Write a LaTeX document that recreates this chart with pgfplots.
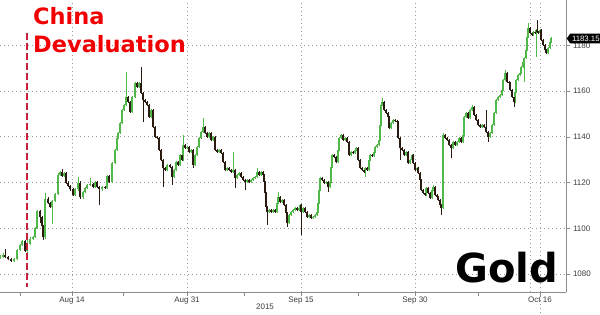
\documentclass[border=0pt]{standalone}
\usepackage{pgfplots}
\pgfplotsset{compat=1.18}
\usepackage{pgfplotstable}
\usepackage{fontspec}
\setmainfont{Liberation Sans}
\newfontfamily\djb{DejaVu Sans}
\usetikzlibrary{shapes.symbols}
\definecolor{upc}{HTML}{4FB848}
\definecolor{dnc}{HTML}{2A1A10}
\definecolor{gridgray}{HTML}{9A9A9A}
\definecolor{axisgray}{HTML}{8C8C8C}
\definecolor{labelgray}{HTML}{3C3C3C}
\definecolor{devred}{HTML}{C8203C}
\definecolor{txtred}{HTML}{F00000}
% x = bar position on the business-day time axis, o/h/l/c = gold price (USD/oz)
\pgfplotstableread{
x o h l c
0 1087.0 1088.1 1086.5 1087.6
3 1087.6 1089.0 1087.1 1088.5
5 1088.5 1091.0 1086.8 1087.3
8 1087.3 1087.8 1086.0 1086.5
11 1086.5 1087.0 1085.3 1085.8
14 1085.8 1087.0 1085.3 1086.5
17 1086.5 1091.0 1086.0 1090.5
20 1090.5 1093.2 1090.0 1092.7
22 1092.7 1095.0 1092.2 1094.5
25 1094.5 1095.0 1089.5 1090.0
27 1090.0 1098.0 1089.0 1093.0
30 1093.0 1096.0 1092.5 1095.5
33 1095.5 1096.7 1095.0 1096.2
35 1096.2 1100.5 1095.7 1100.0
37 1100.0 1108.0 1099.5 1107.5
40 1107.5 1108.0 1102.5 1105.0
42 1105.0 1105.5 1100.5 1101.0
43 1101.0 1101.5 1094.9 1096.0
45 1096.0 1115.5 1095.5 1113.0
48 1113.0 1113.5 1110.5 1111.0
50 1111.0 1111.5 1109.0 1109.5
52 1109.5 1112.5 1102.0 1112.0
55 1112.0 1115.5 1111.5 1115.0
58 1115.0 1124.0 1114.5 1123.5
60 1123.5 1125.1 1123.0 1124.6
62 1124.6 1126.0 1122.5 1123.0
64 1123.0 1124.5 1122.5 1124.0
66 1124.0 1124.5 1119.5 1120.0
68 1120.0 1120.5 1118.0 1118.5
70 1118.5 1119.0 1116.5 1117.0
73 1117.0 1117.5 1114.1 1114.6
75 1114.6 1117.5 1114.1 1117.0
78 1117.0 1122.5 1116.5 1120.0
80 1120.0 1120.5 1113.0 1113.5
83 1113.5 1116.5 1113.0 1116.0
85 1116.0 1118.0 1115.5 1117.5
87 1117.5 1119.5 1117.0 1119.0
90 1119.0 1122.0 1118.5 1119.5
93 1119.5 1120.0 1117.5 1118.0
95 1118.0 1120.8 1117.5 1120.3
97 1120.3 1120.8 1117.6 1118.1
99 1118.1 1118.6 1110.0 1117.0
102 1117.0 1118.6 1116.5 1118.1
105 1118.1 1118.6 1117.1 1117.6
107 1117.6 1123.5 1117.1 1123.0
109 1123.0 1123.5 1119.8 1120.3
112 1120.3 1129.1 1119.8 1128.6
115 1128.6 1134.8 1128.1 1134.3
117 1134.3 1140.0 1133.8 1139.5
118 1139.5 1142.2 1139.0 1141.7
120 1141.7 1146.6 1141.2 1146.1
122 1146.1 1152.3 1145.6 1151.8
124 1151.8 1154.5 1151.3 1154.0
126 1154.0 1168.4 1153.5 1157.5
128 1157.5 1158.0 1154.8 1155.3
130 1155.3 1155.8 1150.4 1150.9
132 1150.9 1158.0 1150.4 1157.5
135 1157.5 1164.1 1157.0 1163.6
137 1163.6 1164.1 1161.3 1161.8
139 1161.8 1164.1 1161.3 1163.6
141 1163.6 1170.6 1158.7 1159.2
143 1159.2 1159.7 1146.5 1156.1
145 1156.1 1156.6 1154.8 1155.3
147 1155.3 1155.8 1153.5 1154.0
149 1154.0 1154.5 1148.2 1148.7
151 1148.7 1152.3 1148.2 1151.8
153 1151.8 1152.3 1143.8 1144.3
155 1144.3 1144.8 1139.5 1140.0
157 1140.0 1140.5 1139.0 1139.5
159 1139.5 1140.0 1133.8 1134.3
161 1134.3 1134.8 1129.4 1129.9
163 1129.9 1130.4 1118.1 1126.4
165 1126.4 1126.9 1125.0 1125.5
167 1125.5 1128.2 1125.0 1127.7
170 1127.7 1128.2 1126.3 1126.8
172 1126.8 1127.3 1119.0 1122.5
174 1122.5 1126.0 1122.0 1125.5
176 1125.5 1129.5 1125.0 1129.0
178 1129.0 1129.5 1127.2 1127.7
180 1127.7 1132.6 1127.2 1132.1
182 1132.1 1132.6 1129.4 1129.9
183 1129.9 1140.8 1129.4 1136.5
185 1136.5 1137.0 1134.6 1135.1
187 1135.1 1136.1 1134.6 1135.6
189 1135.6 1136.1 1132.9 1133.4
191 1133.4 1134.8 1132.9 1134.3
193 1134.3 1134.8 1126.4 1127.7
195 1127.7 1132.6 1127.2 1132.1
197 1132.1 1136.1 1131.6 1135.6
199 1135.6 1140.0 1135.1 1139.5
201 1139.5 1142.6 1139.0 1142.1
203 1142.1 1148.3 1141.6 1144.3
205 1144.3 1144.8 1141.2 1141.7
207 1141.7 1142.2 1139.5 1140.0
209 1140.0 1142.2 1139.5 1141.7
211 1141.7 1142.2 1138.1 1138.6
213 1138.6 1140.5 1138.1 1140.0
215 1140.0 1140.5 1133.8 1134.3
217 1134.3 1134.8 1132.9 1133.4
219 1133.4 1134.8 1132.9 1134.3
221 1134.3 1134.8 1132.5 1133.0
223 1133.0 1133.5 1128.5 1129.0
225 1129.0 1129.5 1125.0 1125.5
227 1125.5 1126.9 1125.0 1126.4
229 1126.4 1126.9 1125.0 1125.5
231 1125.5 1126.0 1124.1 1124.6
233 1124.6 1133.4 1124.1 1125.5
235 1125.5 1126.0 1117.6 1122.0
237 1122.0 1123.8 1121.5 1123.3
239 1123.3 1124.7 1122.8 1124.2
241 1124.2 1124.7 1122.0 1122.5
243 1122.5 1123.0 1120.6 1121.1
245 1121.1 1121.6 1116.8 1120.3
247 1120.3 1121.6 1119.8 1121.1
249 1121.1 1121.6 1119.8 1120.3
251 1120.3 1121.6 1119.8 1121.1
253 1121.1 1122.5 1120.6 1122.0
255 1122.0 1123.0 1121.5 1122.5
257 1122.5 1126.4 1122.0 1124.6
259 1124.6 1125.1 1122.8 1123.3
261 1123.3 1125.1 1122.8 1124.6
263 1124.6 1125.1 1122.8 1123.3
264 1123.3 1123.8 1119.8 1120.3
265 1120.3 1120.8 1114.9 1115.4
266 1115.4 1115.9 1108.8 1109.3
267 1109.3 1109.8 1101.4 1107.1
269 1107.1 1108.5 1106.6 1108.0
271 1108.0 1108.5 1106.6 1107.1
273 1107.1 1108.5 1106.6 1108.0
275 1108.0 1108.5 1106.6 1107.1
277 1107.1 1111.6 1106.6 1111.1
278 1111.1 1115.9 1110.6 1113.7
280 1113.7 1114.2 1111.0 1111.5
282 1111.5 1112.9 1111.0 1112.4
284 1112.4 1112.9 1109.7 1110.2
286 1110.2 1110.7 1106.2 1106.7
287 1106.7 1107.2 1100.6 1102.3
289 1102.3 1106.3 1101.8 1105.8
291 1105.8 1107.6 1105.3 1107.1
293 1107.1 1108.5 1106.6 1108.0
295 1108.0 1109.4 1107.5 1108.9
297 1108.9 1109.4 1107.5 1108.0
299 1108.0 1109.4 1107.5 1108.9
300 1108.9 1110.7 1108.4 1110.2
301 1110.2 1110.7 1097.1 1107.1
303 1107.1 1109.4 1106.6 1108.9
305 1108.9 1109.4 1106.6 1107.1
307 1107.1 1107.6 1104.4 1104.9
309 1104.9 1106.3 1104.4 1105.8
311 1105.8 1106.3 1104.0 1104.5
313 1104.5 1105.4 1104.0 1104.9
315 1104.9 1106.3 1104.4 1105.8
317 1105.8 1107.6 1105.3 1107.1
318 1107.1 1111.6 1106.6 1111.1
319 1111.1 1117.3 1110.6 1116.8
320 1116.8 1122.5 1116.3 1122.0
322 1122.0 1122.5 1120.6 1121.1
324 1121.1 1121.6 1119.3 1119.8
326 1119.8 1120.8 1119.3 1120.3
328 1120.3 1120.8 1115.9 1118.1
330 1118.1 1120.8 1117.6 1120.3
331 1120.3 1127.3 1119.8 1126.8
332 1126.8 1132.6 1126.3 1132.1
334 1132.1 1132.6 1130.7 1131.2
336 1131.2 1131.7 1128.5 1129.0
338 1129.0 1134.8 1128.5 1134.3
339 1134.3 1140.0 1133.8 1139.5
341 1139.5 1141.3 1139.0 1140.8
343 1140.8 1141.3 1138.1 1138.6
345 1138.6 1140.0 1138.1 1139.5
347 1139.5 1140.0 1137.3 1137.8
349 1137.8 1138.3 1131.6 1132.1
351 1132.1 1133.9 1131.6 1133.4
353 1133.4 1133.9 1132.4 1132.9
355 1132.9 1134.8 1132.4 1134.3
356 1134.3 1135.6 1133.8 1135.1
358 1135.1 1135.6 1129.4 1129.9
360 1129.9 1130.4 1125.9 1126.4
362 1126.4 1126.9 1125.0 1125.5
364 1125.5 1126.0 1124.1 1124.6
365 1124.6 1126.9 1122.5 1126.4
367 1126.4 1126.9 1125.0 1125.5
369 1125.5 1130.4 1125.0 1129.9
370 1129.9 1132.6 1129.4 1132.1
372 1132.1 1132.6 1131.1 1131.6
374 1131.6 1133.9 1131.1 1133.4
375 1133.4 1136.1 1132.9 1135.6
377 1135.6 1137.0 1135.1 1136.5
379 1136.5 1139.1 1136.0 1138.6
380 1138.6 1145.7 1138.1 1145.2
381 1145.2 1154.5 1144.7 1154.0
382 1154.0 1157.0 1153.5 1155.3
384 1155.3 1155.8 1151.3 1151.8
386 1151.8 1152.3 1150.0 1150.5
388 1150.5 1151.0 1148.2 1148.7
389 1148.7 1149.2 1143.4 1143.9
391 1143.9 1146.6 1143.4 1146.1
393 1146.1 1147.9 1145.6 1147.4
395 1147.4 1147.9 1146.5 1147.0
397 1147.0 1147.5 1146.0 1146.5
398 1146.5 1147.0 1139.0 1139.5
400 1139.5 1140.0 1129.9 1135.1
402 1135.1 1135.6 1133.8 1134.3
404 1134.3 1134.8 1131.6 1132.1
406 1132.1 1133.9 1131.6 1133.4
408 1133.4 1133.9 1128.1 1128.6
410 1128.6 1130.4 1128.1 1129.9
412 1129.9 1132.6 1129.4 1132.1
413 1132.1 1132.6 1128.1 1128.6
415 1128.6 1129.1 1125.0 1125.5
417 1125.5 1126.9 1125.0 1126.4
418 1126.4 1126.9 1123.7 1124.2
420 1124.2 1124.7 1120.6 1121.1
421 1121.1 1121.6 1116.3 1116.8
423 1116.8 1117.3 1114.9 1115.4
425 1115.4 1115.9 1114.1 1114.6
426 1114.6 1118.1 1114.1 1117.6
428 1117.6 1118.1 1114.9 1115.4
430 1115.4 1115.9 1112.8 1113.3
432 1113.3 1117.3 1112.8 1116.8
433 1116.8 1118.9 1116.3 1118.1
435 1118.1 1118.6 1114.1 1114.6
437 1114.6 1115.1 1113.2 1113.7
438 1113.7 1114.2 1111.9 1112.4
440 1112.4 1112.9 1109.7 1110.2
441 1110.2 1110.7 1105.8 1108.9
443 1108.9 1141.7 1108.4 1140.8
445 1140.8 1141.3 1139.0 1139.5
447 1139.5 1140.0 1138.1 1138.6
449 1138.6 1139.1 1136.0 1136.5
451 1136.5 1137.0 1130.8 1135.1
453 1135.1 1138.3 1134.6 1137.8
455 1137.8 1138.3 1136.0 1136.5
457 1136.5 1138.3 1136.0 1137.8
459 1137.8 1140.0 1137.3 1139.5
461 1139.5 1140.0 1137.3 1137.8
463 1137.8 1141.3 1137.3 1140.8
464 1140.8 1149.2 1140.3 1148.7
466 1148.7 1151.0 1148.2 1150.5
468 1150.5 1151.0 1147.8 1148.3
470 1148.3 1152.3 1147.8 1151.8
472 1151.8 1154.0 1151.3 1153.1
474 1153.1 1153.6 1149.1 1149.6
476 1149.6 1150.1 1146.9 1147.4
478 1147.4 1147.9 1144.7 1145.2
480 1145.2 1145.7 1143.8 1144.3
482 1144.3 1145.7 1143.8 1145.2
484 1145.2 1145.7 1143.8 1144.3
486 1144.3 1151.8 1141.6 1142.1
488 1142.1 1142.6 1137.8 1140.0
490 1140.0 1142.2 1139.5 1141.7
492 1141.7 1145.7 1141.2 1145.2
494 1145.2 1151.0 1144.7 1150.5
496 1150.5 1156.6 1150.0 1156.1
498 1156.1 1158.0 1155.6 1157.5
500 1157.5 1158.8 1157.0 1158.3
502 1158.3 1161.0 1157.8 1160.5
503 1160.5 1165.4 1160.0 1164.9
505 1164.9 1169.3 1164.4 1168.0
507 1168.0 1168.5 1163.5 1164.0
509 1164.0 1164.5 1163.1 1163.6
510 1163.6 1164.1 1160.0 1160.5
512 1160.5 1161.0 1157.0 1157.5
514 1157.5 1158.0 1153.1 1155.3
515 1155.3 1160.1 1154.8 1159.6
516 1159.6 1165.4 1159.1 1164.9
518 1164.9 1167.6 1164.4 1167.1
520 1167.1 1168.5 1166.6 1168.0
521 1168.0 1171.1 1167.5 1170.6
523 1170.6 1173.3 1170.1 1172.8
524 1172.8 1175.0 1164.0 1174.5
526 1174.5 1178.5 1174.0 1178.0
527 1178.0 1184.2 1177.5 1183.7
528 1183.7 1189.8 1183.2 1187.7
530 1187.7 1188.2 1185.0 1185.5
532 1185.5 1186.0 1184.1 1184.6
533 1184.6 1186.4 1184.1 1185.9
535 1185.9 1186.4 1185.0 1185.5
536 1185.5 1187.3 1175.0 1186.8
537 1186.8 1191.2 1185.5 1186.0
538 1186.0 1186.5 1185.0 1185.5
540 1185.5 1187.3 1185.0 1186.8
541 1186.8 1187.3 1181.9 1182.4
543 1182.4 1182.9 1179.7 1180.2
545 1180.2 1180.7 1177.5 1178.0
546 1178.0 1178.5 1176.2 1176.7
548 1176.7 1179.4 1176.2 1178.9
550 1178.9 1182.0 1178.4 1181.5
551 1181.5 1183.7 1181.0 1183.15
}\gold
\begin{document}
\begin{tikzpicture}[x=1pt,y=1pt]
\path[use as bounding box] (0,-22) rectangle (600,292);
\begin{axis}[
  at={(0,0)}, anchor=south west,
  scale only axis, width=566pt, height=292pt,
  xmin=0, xmax=566, ymin=1072.1, ymax=1199.9,
  axis x line*=bottom, axis y line*=right,
  axis line style={draw=axisgray, line width=0.8pt},
  ytick={1080,1100,1120,1140,1160,1180,1200},
  yticklabels={1080,1100,1120,1140,1160,1180,1200},
  xtick={72,187,301,415,540},
  xticklabels={Aug 14,Aug 31,Sep 15,Sep 30,Oct 16},
  minor xtick={20,123,244,358,478},
  tick align=outside,
  major tick length=4pt, minor tick length=4pt,
  every tick/.style={draw=axisgray, line width=0.6pt},
  ymajorgrids, xmajorgrids,
  major grid style={draw=gridgray, line width=0.8pt, dash pattern=on 1pt off 3pt},
  ticklabel style={font=\fontsize{8}{9.5}\selectfont, text=labelgray},
  yticklabel style={xshift=-0.5pt},
  xticklabel style={yshift=3pt},
  clip=false,
]
\draw[gridgray, line width=0.8pt, dash pattern=on 1pt off 3pt] (axis cs:530,1072.1) -- (axis cs:530,1199.9);
% wicks
\addplot[draw=none, mark=none, forget plot,
  restrict expr to domain={\thisrow{c}-\thisrow{o}}{0:1000},
  error bars/.cd, y dir=plus, y explicit, error mark=none,
  error bar style={draw=upc, line width=0.7pt}]
  table[x=x, y=l, y error expr={\thisrow{h}-\thisrow{l}}] {\gold};
\addplot[draw=none, mark=none, forget plot,
  restrict expr to domain={\thisrow{c}-\thisrow{o}}{-1000:-0.001},
  error bars/.cd, y dir=plus, y explicit, error mark=none,
  error bar style={draw=dnc, line width=0.7pt}]
  table[x=x, y=l, y error expr={\thisrow{h}-\thisrow{l}}] {\gold};
% bodies
\addplot[draw=none, mark=none, forget plot,
  restrict expr to domain={\thisrow{c}-\thisrow{o}}{0:1000},
  error bars/.cd, y dir=plus, y explicit, error mark=none,
  error bar style={draw=upc, line width=1.4pt}]
  table[x=x, y=o, y error expr={\thisrow{c}-\thisrow{o}}] {\gold};
\addplot[draw=none, mark=none, forget plot,
  restrict expr to domain={\thisrow{c}-\thisrow{o}}{-1000:-0.001},
  error bars/.cd, y dir=plus, y explicit, error mark=none,
  error bar style={draw=dnc, line width=1.4pt}]
  table[x=x, y=c, y error expr={\thisrow{o}-\thisrow{c}}] {\gold};
\end{axis}
% annotations (picture units = reference pixels, origin at the axis' lower left)
\draw[gridgray, line width=0.8pt, dash pattern=on 1pt off 3pt] (540,0) -- (540,-22);
\node[font=\fontsize{8}{9.5}\selectfont, text=labelgray] at (265,-15) {2015};
\draw[devred, line width=2.7pt, dash pattern=on 7pt off 3pt] (27,259) -- (27,5);
\node[anchor=base west, inner sep=0pt, text=txtred, font=\djb\bfseries\fontsize{22.5}{27}\selectfont] at (33,267) {China};
\node[anchor=base west, inner sep=0pt, text=txtred, font=\djb\bfseries\fontsize{22.5}{27}\selectfont] at (33,240) {Devaluation};
\node[anchor=base west, inner sep=0pt, text=black, font=\djb\bfseries\fontsize{40}{48}\selectfont] at (455,10) {Gold};
\node[signal, signal to=west, signal pointer angle=110, fill=black, text=white, inner xsep=1.8pt, inner ysep=2.2pt, anchor=west, font=\fontsize{7.8}{9}\selectfont] at (566.5,253.5) {1183.15};
\end{tikzpicture}
\end{document}
